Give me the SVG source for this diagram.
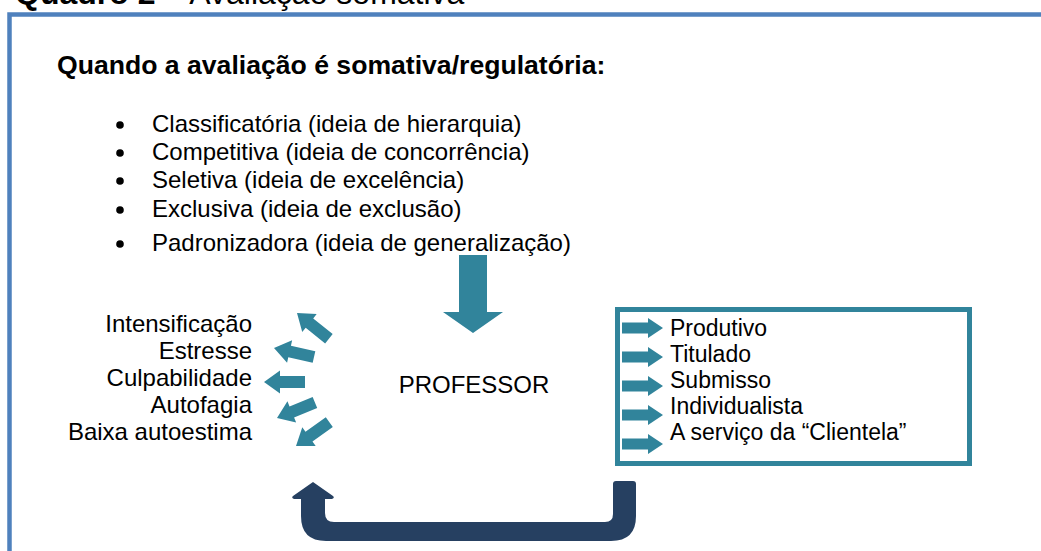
<svg xmlns="http://www.w3.org/2000/svg" width="1041" height="551" viewBox="0 0 1041 551">
<style>
text{font-family:"Liberation Sans",Arial,sans-serif;fill:#000}
.t{font-size:24px}
.r{font-size:23px}
.b{font-weight:bold}
.teal{fill:#31849B}
.navy{fill:#264061}
</style>
<defs>
<path id="la" d="M0,0 L16,-11.5 L16,-6 L41,-6 L41,6 L16,6 L16,11.5 Z"/>
<path id="ra" d="M0,0 L-15,-10 L-15,-5.5 L-41,-5.5 L-41,5.5 L-15,5.5 L-15,10 Z"/>
</defs>
<rect width="1041" height="551" fill="#fff"/>
<path d="M9.5,551 V14.5 H1041" fill="none" stroke="#4F81BD" stroke-width="4.5"/>
<text x="15" y="4" style="font-size:32px"><tspan class="b">Quadro 2</tspan> – Avaliação somativa</text>
<text x="57" y="74" class="b" style="font-size:26.6px">Quando a avaliação é somativa/regulatória:</text>
<g id="list">
<circle cx="120" cy="125" r="3.8"/><text x="152" y="132" class="t">Classificatória (ideia de hierarquia)</text>
<circle cx="120" cy="153" r="3.8"/><text x="152" y="160" class="t">Competitiva (ideia de concorrência)</text>
<circle cx="120" cy="181" r="3.8"/><text x="152" y="188" class="t">Seletiva (ideia de excelência)</text>
<circle cx="120" cy="210" r="3.8"/><text x="152" y="217" class="t">Exclusiva (ideia de exclusão)</text>
<circle cx="120" cy="244" r="3.8"/><text x="152" y="251" class="t">Padronizadora (ideia de generalização)</text>
</g>
<g id="effects" class="t" text-anchor="end">
<text x="252" y="332">Intensificação</text>
<text x="252" y="359">Estresse</text>
<text x="252" y="386">Culpabilidade</text>
<text x="252" y="413">Autofagia</text>
<text x="252" y="440">Baixa autoestima</text>
</g>
<g id="professor"><text x="474" y="393" class="t" text-anchor="middle">PROFESSOR</text></g>
<g id="traits">
<rect x="617.5" y="309.5" width="352" height="154" fill="none" stroke="#31849B" stroke-width="5"/>
<text x="670" y="336" class="r">Produtivo</text>
<text x="670" y="362" class="r">Titulado</text>
<text x="670" y="388" class="r">Submisso</text>
<text x="670" y="414" class="r">Individualista</text>
<text x="670" y="440" class="r">A serviço da “Clientela”</text>
</g>
<g id="connectors">
<path class="teal" d="M459,255 H487 V312 H503 L473,333 L443,312 H459 Z"/>
<use href="#la" class="teal" transform="translate(297,313) rotate(38.9)"/>
<use href="#la" class="teal" transform="translate(274,348) rotate(12.7)"/>
<use href="#la" class="teal" transform="translate(264,382)"/>
<use href="#la" class="teal" transform="translate(277,418) rotate(-22.3)"/>
<use href="#la" class="teal" transform="translate(296,446) rotate(-35.7)"/>
<use href="#ra" class="teal" transform="translate(663,328)"/>
<use href="#ra" class="teal" transform="translate(663,357)"/>
<use href="#ra" class="teal" transform="translate(663,386)"/>
<use href="#ra" class="teal" transform="translate(663,415)"/>
<use href="#ra" class="teal" transform="translate(663,444)"/>
<path class="navy" d="M613,484 Q613,481 616,481 L633,481 Q636,481 636,484 L636,516 Q636,541 611,541 L326,541 Q301,541 301,516 L301,499 L294,499 Q291,498 293,496 L313,482 L333,496 Q335,498 332,499 L325,499 L325,513 Q325,522 334,522 L605,522 Q613,522 613,514 Z"/>
</g>
</svg>
